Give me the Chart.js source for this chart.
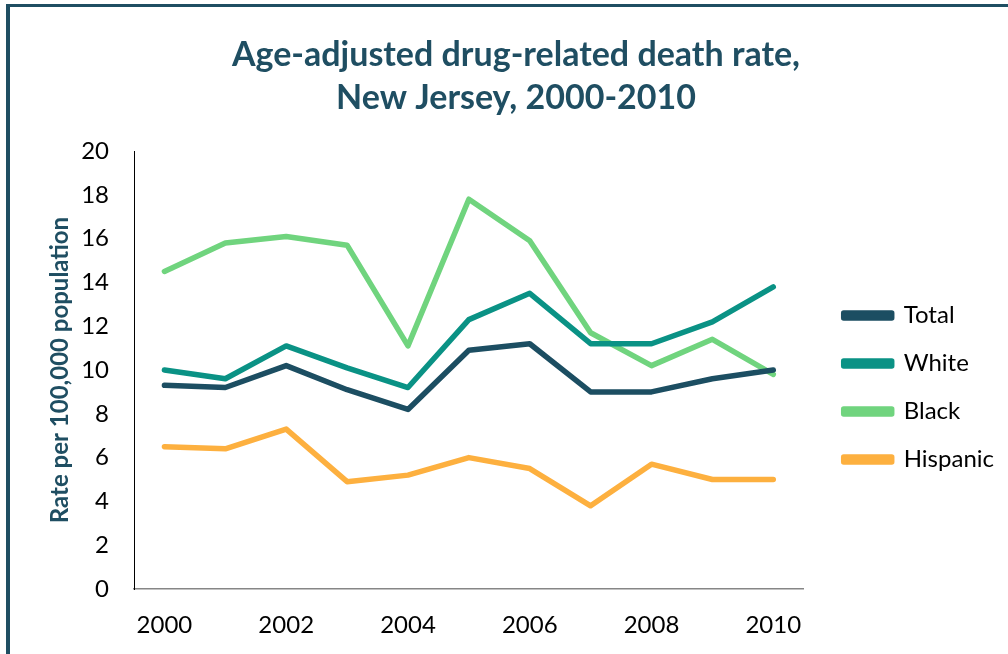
<!DOCTYPE html>
<html>
<head>
<meta charset="utf-8">
<script src="https://cdn.jsdelivr.net/npm/chart.js@4.4.1/dist/chart.umd.min.js"></script>
<style>
  html, body { margin: 0; padding: 0; background: #fff; }
  #frame {
    position: absolute; left: 6px; top: 4px; width: 1010px; height: 647px;
    border-top: 3px solid #1f4e62; border-left: 4px solid #1f4e62;
    border-bottom: 1px solid #e6e6e6;
  }
  #wrap { position: absolute; left: 0; top: 0; width: 1008px; height: 654px; }
</style>
</head>
<body>
<div id="frame"></div>
<div id="wrap"><canvas id="chart" width="1008" height="654"></canvas></div>
<script>
const years = ["2000", "2001", "2002", "2003", "2004", "2005", "2006", "2007", "2008", "2009", "2010"];
const total = [9.3, 9.2, 10.2, 9.1, 8.2, 10.9, 11.2, 9.0, 9.0, 9.6, 10.0];
const white = [10.0, 9.6, 11.1, 10.1, 9.2, 12.3, 13.5, 11.2, 11.2, 12.2, 13.8];
const black = [14.5, 15.8, 16.1, 15.7, 11.1, 17.8, 15.9, 11.7, 10.2, 11.4, 9.8];
const hispanic = [6.5, 6.4, 7.3, 4.9, 5.2, 6.0, 5.5, 3.8, 5.7, 5.0, 5.0];

const teal = "#1f4e62";

function series(label, data, color) {
  return {
    label: label,
    data: data,
    borderColor: color,
    backgroundColor: color,
    borderWidth: 5.5,
    borderCapStyle: "round",
    borderJoinStyle: "round",
    pointRadius: 0,
    tension: 0,
  };
}

// nudge the legend a bit further from the plot, like the original
const legendShift = {
  id: "legendShift",
  afterLayout(chart) {
    chart.legend.left += 16;
    chart.legend.right += 16;
    chart.legend.top += 45;
    chart.legend.bottom += 45;
  },
};

const ctx = document.getElementById("chart").getContext("2d");
const chart = new Chart(ctx, {
  type: "line",
  data: {
    labels: years,
    datasets: [
      series("Total", total, "#1c4e62"),
      series("White", white, "#0a9285"),
      series("Black", black, "#70d47e"),
      series("Hispanic", hispanic, "#fdb03f"),
    ],
  },
  plugins: [legendShift],
  options: {
    responsive: false,
    animation: false,
    layout: { padding: { left: 44, right: 20, top: 34, bottom: 3 } },
    plugins: {
      tooltip: { enabled: false },
      title: {
        display: true,
        text: ["Age-adjusted drug-related death rate,", "New Jersey, 2000-2010"],
        color: teal,
        font: { family: "Lato", size: 34, weight: "bold", lineHeight: 1.25 },
        padding: { top: 0, bottom: 32 },
      },
      legend: {
        position: "right",
        labels: {
          color: "#000",
          font: { family: "Lato", size: 24 },
          boxWidth: 48,
          boxHeight: 5,
          padding: 24,
        },
      },
    },
    scales: {
      x: {
        offset: true,
        grid: { display: false },
        border: { display: true, color: "#868686", width: 1.5 },
        afterFit: function (scale) {
          scale.height = 62;
        },
        ticks: {
          color: "#000",
          font: { family: "Lato", size: 24 },
          padding: 14,
          maxRotation: 0,
          autoSkip: false,
          callback: function (value, index) {
            return index % 2 === 0 ? years[index] : "";
          },
        },
      },
      y: {
        min: 0,
        max: 20,
        grid: { display: false },
        border: { display: true, color: "#000", width: 1 },
        afterFit: function (scale) {
          scale.width = 90;
        },
        ticks: {
          stepSize: 2,
          color: "#000",
          font: { family: "Lato", size: 24 },
          padding: 17,
        },
        title: {
          display: true,
          text: "Rate per 100,000 population",
          color: teal,
          font: { family: "Lato", size: 24, weight: "bold" },
          padding: { top: 2, bottom: 3 },
        },
      },
    },
  },
});
</script>
</body>
</html>
